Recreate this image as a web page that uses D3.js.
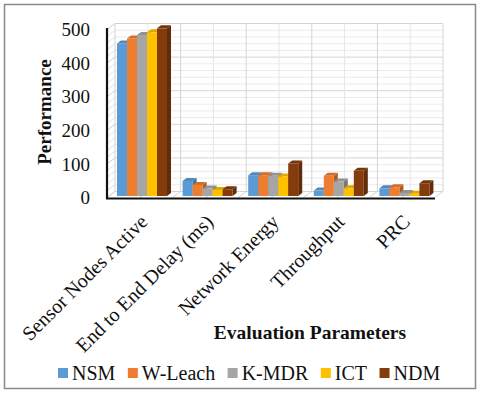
<!DOCTYPE html>
<html>
<head>
<meta charset="utf-8">
<script src="https://cdn.jsdelivr.net/npm/d3@7/dist/d3.min.js"></script>
<style>
  body { margin: 0; background: #fff; }
</style>
</head>
<body>
<div id="chart"></div>
<script>
// data
var categories = ["Sensor Nodes Active", "End to End Delay (ms)", "Network Energy", "Throughput", "PRC"];
var seriesNames = ["NSM", "W-Leach", "K-MDR", "ICT", "NDM"];
var nsm    = [454, 45, 62, 16, 23];
var wleach = [469, 33, 62, 60, 26];
var kmdr   = [479, 22, 60, 43, 9];
var ict    = [487, 18, 58, 23, 7];
var ndm    = [499, 20, 97, 75, 38];
var yTicks = [0, 100, 200, 300, 400, 500];
var colors = ["#5B9BD5", "#ED7D31", "#A5A5A5", "#FFC000", "#843C0C"];

var series = [nsm, wleach, kmdr, ict, ndm];
var FONT = "'Liberation Serif', 'Times New Roman', serif";

var W = 480, H = 395;
var svg = d3.select("#chart").append("svg").attr("width", W).attr("height", H)
  .attr("font-family", FONT);
svg.append("rect").attr("width", W).attr("height", H).attr("fill", "#fff");
svg.append("rect").attr("x", 4.5).attr("y", 4.5).attr("width", 471).attr("height", 384)
  .attr("fill", "none").attr("stroke", "#8a8a8a").attr("stroke-width", 1.5);

// 3d wall offset
var dx = 8, dy = -6;

var x = d3.scaleBand().domain(categories).range([107, 435]);
var y = d3.scaleLinear().domain([0, 500]).range([197.5, 29.5]);

var walls = svg.append("g");
var minor = d3.range(0, 501, 20);
// back wall horizontal gridlines
minor.forEach(function(v) {
  var major = v % 100 == 0;
  walls.append("line")
    .attr("x1", 107 + dx).attr("x2", 435 + dx)
    .attr("y1", y(v) + dy).attr("y2", y(v) + dy)
    .attr("stroke", major ? "#d4d4d4" : "#ebebeb").attr("stroke-width", 1);
  // side wall
  walls.append("line")
    .attr("x1", 107).attr("x2", 107 + dx)
    .attr("y1", y(v)).attr("y2", y(v) + dy)
    .attr("stroke", major ? "#cfcfcf" : "#e3e3e3").attr("stroke-width", 1);
});
// back wall vertical gridlines + floor lines
var vx = [];
categories.forEach(function(c) { vx.push(x(c)); vx.push(x(c) + x.bandwidth() / 2); });
vx.push(435);
vx.forEach(function(xx, i) {
  walls.append("line")
    .attr("x1", xx + dx).attr("x2", xx + dx)
    .attr("y1", y(500) + dy).attr("y2", y(0) + dy)
    .attr("stroke", i % 2 == 0 ? "#d4d4d4" : "#e6e6e6");
  walls.append("line")
    .attr("x1", xx).attr("x2", xx + dx)
    .attr("y1", y(0)).attr("y2", y(0) + dy)
    .attr("stroke", "#d4d4d4");
});

// bars
var barW = 10, bdx = 4, bdy = -3;
function shade(c, k) { return d3.color(c).darker(k).formatHex(); }
var barsG = svg.append("g");
categories.forEach(function(c, ci) {
  var x0 = x(c) + 10;
  series.forEach(function(s, si) {
    var bx = x0 + si * barW, top = y(s[ci]) - 1.5, bot = y(0) - 1.5;
    var g = barsG.append("g");
    // side
    g.append("path")
      .attr("d", "M" + (bx + barW) + "," + top + "L" + (bx + barW + bdx) + "," + (top + bdy) +
        "L" + (bx + barW + bdx) + "," + (bot + bdy) + "L" + (bx + barW) + "," + bot + "Z")
      .attr("fill", shade(colors[si], 0.9));
    // top
    g.append("path")
      .attr("d", "M" + bx + "," + top + "L" + (bx + bdx) + "," + (top + bdy) +
        "L" + (bx + barW + bdx) + "," + (top + bdy) + "L" + (bx + barW) + "," + top + "Z")
      .attr("fill", shade(colors[si], 0.35));
    // front
    g.append("rect").attr("x", bx).attr("y", top).attr("width", barW).attr("height", bot - top)
      .attr("fill", colors[si]);
  });
});

// axis lines
svg.append("line").attr("x1", 107).attr("x2", 107).attr("y1", 28).attr("y2", 199)
  .attr("stroke", "#111").attr("stroke-width", 2.2);
svg.append("line").attr("x1", 106).attr("x2", 435).attr("y1", 198.5).attr("y2", 198.5)
  .attr("stroke", "#111").attr("stroke-width", 2.2);

// y tick labels
svg.selectAll(".ytick").data(yTicks).enter().append("text")
  .attr("class", "ytick")
  .attr("x", 90).attr("y", function(d) { return y(d); })
  .attr("dy", "0.35em").attr("text-anchor", "end")
  .attr("font-size", "19px").attr("fill", "#111")
  .text(function(d) { return d; });

svg.append("text")
  .attr("transform", "translate(51,112) rotate(-90)")
  .attr("text-anchor", "middle").attr("font-size", "19px").attr("font-weight", "bold")
  .attr("fill", "#111")
  .text("Performance");

// category labels
svg.selectAll(".xlab").data(categories).enter().append("text")
  .attr("class", "xlab")
  .attr("text-anchor", "end").attr("font-size", "20px").attr("fill", "#111")
  .attr("transform", function(d) {
    return "translate(" + (x(d) + x.bandwidth() / 2 + 9) + ",223) rotate(-45)";
  })
  .text(function(d) { return d; });

svg.append("text")
  .attr("x", 310).attr("y", 339).attr("text-anchor", "middle")
  .attr("font-size", "19.5px").attr("font-weight", "bold").attr("fill", "#111")
  .text("Evaluation Parameters");

// legend
var legend = svg.append("g");
var lx = 58;
seriesNames.forEach(function(n, i) {
  legend.append("rect").attr("x", lx).attr("y", 368).attr("width", 10).attr("height", 10)
    .attr("fill", colors[i]);
  var t = legend.append("text").attr("x", lx + 14).attr("y", 373).attr("dy", "0.35em")
    .attr("font-size", "20px").attr("fill", "#111").text(n);
  lx += 14 + t.node().getComputedTextLength() + 12.5;
});
</script>
</body>
</html>
